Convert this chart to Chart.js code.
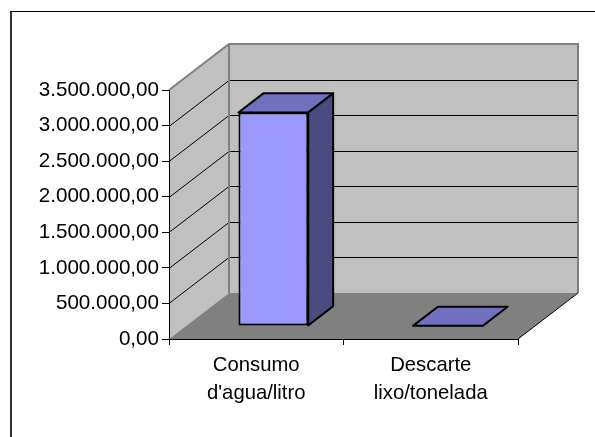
<!DOCTYPE html>
<html>
<head>
<meta charset="utf-8">
<script src="https://cdn.jsdelivr.net/npm/chart.js@4/dist/chart.umd.min.js"></script>
<style>
  body { margin: 0; background: #fff; }
  canvas { display: block; }
</style>
</head>
<body>
<canvas id="chart" width="595" height="437"></canvas>
<script>
// dados
const categories = [['Consumo', "d'agua/litro"], ['Descarte', 'lixo/tonelada']];
const values = [3000000, 250];
const yTickValues = [0, 500000, 1000000, 1500000, 2000000, 2500000, 3000000, 3500000];

// profundidade 3D (pixels) e posição das barras na profundidade
const DX = 60, DY = 46;
const FRONT = 0.285, BACK = 0.70;

function formatBR(v) {
    return Math.round(v).toString().replace(/\B(?=(\d{3})+(?!\d))/g, '.') + ',00';
}

const threeD = {
    id: 'threeD',
    beforeDraw(chart) {
        const ctx = chart.ctx;
        const a = chart.chartArea;
        const y = chart.scales.y;
        ctx.save();
        ctx.fillStyle = '#fff';
        ctx.fillRect(0, 0, chart.width, chart.height);

        // moldura externa
        ctx.fillStyle = '#333';
        ctx.fillRect(10, 11, 2, chart.height - 11);
        ctx.fillStyle = '#000';
        ctx.fillRect(10, 11, chart.width - 10, 1);

        const top = y.getPixelForValue(y.max);
        const bot = y.getPixelForValue(0);

        // parede lateral
        ctx.fillStyle = '#c0c0c0';
        ctx.beginPath();
        ctx.moveTo(a.left, top);
        ctx.lineTo(a.left + DX, top - DY);
        ctx.lineTo(a.left + DX, bot - DY);
        ctx.lineTo(a.left, bot);
        ctx.closePath();
        ctx.fill();

        // parede do fundo
        ctx.fillRect(a.left + DX, top - DY, a.right - a.left, bot - top);

        // piso
        ctx.fillStyle = '#808080';
        ctx.beginPath();
        ctx.moveTo(a.left, bot);
        ctx.lineTo(a.left + DX, bot - DY);
        ctx.lineTo(a.right + DX, bot - DY);
        ctx.lineTo(a.right, bot);
        ctx.closePath();
        ctx.fill();

        // linhas de grade
        ctx.strokeStyle = '#000';
        ctx.lineWidth = 1;
        y.ticks.forEach(t => {
            if (t.value === 0 || t.value === y.max) return;
            const py = Math.round(y.getPixelForValue(t.value)) + 0.5;
            ctx.beginPath();
            ctx.moveTo(a.left, py);
            ctx.lineTo(a.left + DX, py - DY);
            ctx.lineTo(a.right + DX, py - DY);
            ctx.stroke();
        });

        // bordas das paredes
        ctx.strokeStyle = '#808080';
        ctx.lineWidth = 2;
        ctx.beginPath();
        ctx.moveTo(a.left, top);
        ctx.lineTo(a.left + DX, top - DY);
        ctx.lineTo(a.right + DX, top - DY);
        ctx.lineTo(a.right + DX, bot - DY);
        ctx.moveTo(a.left + DX, top - DY);
        ctx.lineTo(a.left + DX, bot - DY);
        ctx.stroke();

        ctx.strokeStyle = '#000';
        ctx.lineWidth = 1;
        ctx.beginPath();
        ctx.moveTo(a.right, bot);
        ctx.lineTo(a.right + DX, bot - DY);
        ctx.stroke();
        ctx.restore();
    },
    beforeDatasetsDraw(chart) {
        chart.ctx.save();
        chart.ctx.translate(FRONT * DX, -FRONT * DY);
    },
    afterDatasetsDraw(chart) {
        const ctx = chart.ctx;
        const bx = (BACK - FRONT) * DX, by = (BACK - FRONT) * DY;
        chart.getDatasetMeta(0).data.forEach(bar => {
            const p = bar.getProps(['x', 'y', 'base', 'width'], true);
            const l = p.x - p.width / 2, r = p.x + p.width / 2;
            ctx.lineWidth = 2;
            ctx.lineJoin = 'round';
            ctx.strokeStyle = '#000';
            // topo
            ctx.fillStyle = '#7070be';
            ctx.beginPath();
            ctx.moveTo(l, p.y);
            ctx.lineTo(l + bx, p.y - by);
            ctx.lineTo(r + bx, p.y - by);
            ctx.lineTo(r, p.y);
            ctx.closePath();
            ctx.fill();
            ctx.stroke();
            // lateral
            if (p.base - p.y > 1) {
                ctx.fillStyle = '#4b4b80';
                ctx.beginPath();
                ctx.moveTo(r, p.y);
                ctx.lineTo(r + bx, p.y - by);
                ctx.lineTo(r + bx, p.base - by);
                ctx.lineTo(r, p.base);
                ctx.closePath();
                ctx.fill();
                ctx.stroke();
            }
        });
        ctx.restore();
    }
};

new Chart(document.getElementById('chart'), {
    type: 'bar',
    data: {
        labels: categories,
        datasets: [{
            data: values,
            backgroundColor: '#9999ff',
            borderColor: '#000',
            borderWidth: 2,
            borderSkipped: false,
            categoryPercentage: 1,
            barPercentage: 0.4,
            clip: false
        }]
    },
    options: {
        responsive: false,
        animation: false,
        devicePixelRatio: 1,
        layout: { padding: { top: 90, right: 77, left: 0, bottom: 0 } },
        plugins: { legend: { display: false }, tooltip: { enabled: false } },
        scales: {
            x: {
                grid: { drawOnChartArea: false, tickLength: 6, color: '#000', offset: true },
                border: { color: '#000', width: 1 },
                ticks: {
                    color: '#000', padding: 7, maxRotation: 0,
                    font: { family: 'Liberation Sans', size: 20.3, lineHeight: 1.37 }
                },
                afterFit: s => { s.height = 98; }
            },
            y: {
                min: 0,
                max: 3500000,
                grid: { drawOnChartArea: false, tickLength: 7, color: '#000' },
                border: { color: '#000', width: 1 },
                ticks: {
                    color: '#000', padding: 3, callback: v => formatBR(v),
                    font: { family: 'Liberation Sans', size: 20.6 }
                },
                afterBuildTicks: s => { s.ticks = yTickValues.map(v => ({ value: v })); },
                afterFit: s => { s.width = 169; }
            }
        }
    },
    plugins: [threeD]
});
</script>
</body>
</html>
